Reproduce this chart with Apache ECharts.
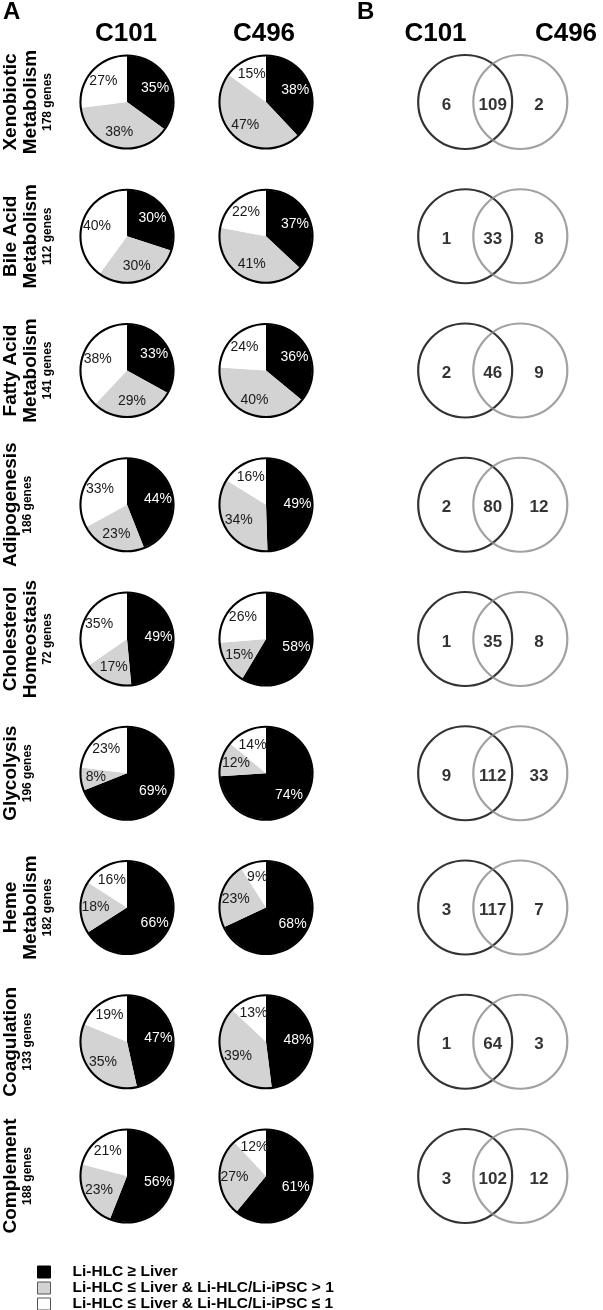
<!DOCTYPE html>
<html><head><meta charset="utf-8">
<script src="https://cdn.jsdelivr.net/npm/echarts@6/dist/echarts.min.js"></script>
<style>html,body{margin:0;padding:0;background:#fff}#c{width:603px;height:1310px}</style>
</head><body><div id="c"></div>
<script>
// ---------- data ----------
const pathways = ['Xenobiotic Metabolism','Bile Acid Metabolism','Fatty Acid Metabolism','Adipogenesis','Cholesterol Homeostasis','Glycolysis','Heme Metabolism','Coagulation','Complement'];
const nameLines = [['Xenobiotic','Metabolism'],['Bile Acid','Metabolism'],['Fatty Acid','Metabolism'],['Adipogenesis'],['Cholesterol','Homeostasis'],['Glycolysis'],['Heme','Metabolism'],['Coagulation'],['Complement']];
const geneCounts = [178,112,141,186,72,196,182,133,188];
const lines = ['C101','C496'];
const categories = ['Li-HLC \u2265 Liver','Li-HLC \u2264 Liver & Li-HLC/Li-iPSC > 1','Li-HLC \u2264 Liver & Li-HLC/Li-iPSC \u2264 1'];
const c101Above = [35,30,33,44,49,69,66,47,56];
const c101Mid   = [38,30,29,23,17,8,18,35,23];
const c101Low   = [27,40,38,33,35,23,16,19,21];
const c496Above = [38,37,36,49,58,74,68,48,61];
const c496Mid   = [47,41,40,34,15,12,23,39,27];
const c496Low   = [15,22,24,16,26,14,9,13,12];
const vennC101Only = [6,1,2,2,1,9,3,1,3];
const vennShared   = [109,33,46,80,35,112,117,64,102];
const vennC496Only = [2,8,9,12,8,33,7,3,12];

// ---------- layout ----------
const FONT = 'Liberation Sans, Arial, Helvetica, sans-serif';
const ROW0 = 102, ROWH = 134.25;
const PIE_X = [127, 266];
const R = 46;
const catColors = ['#000000', '#d3d3d3', '#ffffff'];
const rowY = i => ROW0 + ROWH * i;
const pieSets = [[c101Above, c101Mid, c101Low], [c496Above, c496Mid, c496Low]];

const series = [];
pieSets.forEach((set, col) => {
  pathways.forEach((p, i) => {
    const center = [PIE_X[col], rowY(i)];
    const data = categories.map((c, k) => ({ name: c, value: set[k][i], itemStyle: { color: catColors[k] } }));
    series.push({
      type: 'pie', name: lines[col] + ' ' + p, center, radius: [0, R],
      startAngle: 90, clockwise: true, silent: true, animation: false,
      label: { show: false }, labelLine: { show: false },
      itemStyle: { borderWidth: 0 }, data
    });
    series.push({
      type: 'pie', center, radius: [R - 0.5, R + 1.6], silent: true, animation: false,
      label: { show: false }, labelLine: { show: false },
      data: [{ value: 1, itemStyle: { color: '#000' } }]
    });
    series.push({
      type: 'pie', center, radius: [0, 57], startAngle: 90, clockwise: true,
      silent: true, animation: false, labelLine: { show: false },
      itemStyle: { color: 'rgba(0,0,0,0)', borderWidth: 0 },
      label: {
        show: true, position: 'inside', formatter: '{c}%',
        fontFamily: FONT, fontSize: 14, textBorderWidth: 0
      },
      data: categories.map((c, k) => ({
        name: c, value: set[k][i],
        label: { color: k === 0 ? '#ffffff' : '#1a1a1a' }
      }))
    });
  });
});

// Venn diagrams on a hidden cartesian grid
series.push({
  type: 'scatter', xAxisIndex: 0, yAxisIndex: 0, silent: true, animation: false, clip: false,
  symbol: 'circle', symbolSize: 94, z: 3,
  itemStyle: { color: 'rgba(0,0,0,0)', borderColor: '#000', borderWidth: 2.2 },
  data: pathways.map(p => [-1, p])
});
series.push({
  type: 'scatter', xAxisIndex: 0, yAxisIndex: 0, silent: true, animation: false, clip: false,
  symbol: 'circle', symbolSize: 94, z: 4,
  itemStyle: { color: 'rgba(0,0,0,0)', borderColor: '#8a8a8a', borderWidth: 2.2 },
  data: pathways.map(p => [1, p])
});
const countData = [];
pathways.forEach((p, i) => {
  countData.push([-1.68, p, vennC101Only[i]]);
  countData.push([0, p, vennShared[i]]);
  countData.push([1.68, p, vennC496Only[i]]);
});
series.push({
  type: 'scatter', xAxisIndex: 0, yAxisIndex: 0, silent: true, animation: false, clip: false,
  symbol: 'circle', symbolSize: 1, z: 5,
  itemStyle: { color: 'rgba(0,0,0,0)' },
  label: {
    show: true, position: 'inside', formatter: pp => String(pp.value[2]),
    fontFamily: FONT, fontWeight: 'bold', fontSize: 17, color: '#000',
    textBorderWidth: 0, offset: [0, 3]
  },
  data: countData
});

// ---------- texts ----------
const graphic = [];
const txt = (text, x, y, size, align, rot) => graphic.push({
  type: 'text', x, y, rotation: rot || 0, silent: true,
  style: { text, fontFamily: FONT, fontWeight: 'bold', fontSize: size, fill: '#000', align: align || 'center', verticalAlign: 'middle' }
});
txt('A', 3, 12, 24, 'left');
txt('B', 357, 12, 24, 'left');
txt(lines[0], 126, 34, 26);
txt(lines[1], 264, 34, 26);
txt(lines[0], 435.5, 34, 26);
txt(lines[1], 566, 34, 26);
nameLines.forEach((nl, i) => {
  const y = rowY(i);
  if (nl.length === 2) {
    txt(nl[0], 11, y, 19, 'center', Math.PI / 2);
    txt(nl[1], 30.5, y, 19, 'center', Math.PI / 2);
    txt(geneCounts[i] + ' genes', 48, y, 12, 'center', Math.PI / 2);
  } else {
    txt(nl[0], 11, y, 19, 'center', Math.PI / 2);
    txt(geneCounts[i] + ' genes', 27.5, y, 12, 'center', Math.PI / 2);
  }
});

const chart = echarts.init(document.getElementById('c'), null, { renderer: 'canvas' });
chart.setOption({
  animation: false,
  backgroundColor: '#fff',
  grid: [{ left: 500.5 - 4 * 29.5, width: 8 * 29.5, top: ROW0 - ROWH / 2, height: 9 * ROWH }],
  xAxis: [{ type: 'value', min: -4, max: 4, show: false }],
  yAxis: [{ type: 'category', data: pathways, inverse: true, show: false }],
  legend: {
    orient: 'vertical', left: 37, top: 1264, height: 120, padding: 0,
    itemWidth: 13, itemHeight: 12, itemGap: 0,
    icon: 'rect', selectedMode: false,
    textStyle: { fontFamily: FONT, fontWeight: 'bold', fontSize: 15.5, color: '#000', lineHeight: 16, padding: [0, 0, 0, 17] },
    data: categories.map((c, k) => ({
      name: c, icon: 'rect',
      itemStyle: { color: catColors[k], borderColor: k === 0 ? '#000' : '#555', borderWidth: 1 }
    }))
  },
  graphic,
  series
});
</script></body></html>
